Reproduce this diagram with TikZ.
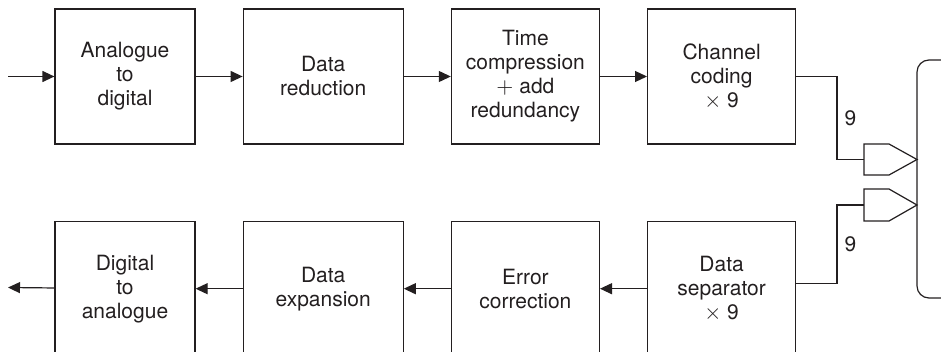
\documentclass[tikz,border=0pt]{standalone}
\usepackage{fontspec}
\setmainfont{TeX Gyre Heros}
\usetikzlibrary{arrows.meta, positioning, calc}
\definecolor{mydark}{RGB}{35,31,32}
\tikzset{
  block/.style={rectangle, draw=mydark, text=mydark, align=center,
    minimum height=67.5pt, inner sep=0pt, line width=0.6pt,
    font=\fontsize{10.5}{12}\selectfont},
  arrow/.style={-{Triangle[length=6pt,width=5.5pt]}, line width=0.6pt, color=mydark},
  line/.style={line width=0.6pt, color=mydark},
  count/.style={right, inner sep=3.5pt, text=mydark, font=\fontsize{10.5}{12}\selectfont}
}

\begin{document}
\begin{tikzpicture}[x=0.5pt, y=-0.5pt]
  \useasboundingbox (0,0) rectangle (941,352);
  % Record chain
  \node[block, minimum width=70pt] (ad) at (125,76.5) {Analogue\\to\\digital};
  \node[block, minimum width=80pt, right=23.5pt of ad] (dr) {Data\\reduction};
  \node[block, minimum width=74pt, right=23.5pt of dr] (tc) {Time\\compression\\$+$ add\\redundancy};
  \node[block, minimum width=74pt, right=23.5pt of tc] (cc) {Channel\\coding\\$\times$ 9};
  % Replay chain
  \node[block, minimum width=70pt, below=38pt of ad] (da) {Digital\\to\\analogue};
  \node[block, minimum width=80pt, below=38pt of dr] (de) {Data\\expansion};
  \node[block, minimum width=74pt, below=38pt of tc] (ec) {Error\\correction};
  \node[block, minimum width=74pt, below=38pt of cc] (ds) {Data\\separator\\$\times$ 9};
  % Input and output
  \coordinate (in) at (8,76.5);
  \coordinate (out) at (8,287.5);
  \draw[arrow] (in) -- (ad);
  \draw[arrow] (ad) -- (dr);
  \draw[arrow] (dr) -- (tc);
  \draw[arrow] (tc) -- (cc);
  \draw[arrow] (ds) -- (ec);
  \draw[arrow] (ec) -- (de);
  \draw[arrow] (de) -- (da);
  \draw[arrow] (da) -- (out);
  % Heads
  \coordinate (rec) at (864,159.5);
  \coordinate (play) at (864,205);
  \draw[line] (rec) ++(0,-15.5) -- ++(25,0) -- ++(28,15.5) -- ++(-28,15.5) -- ++(-25,0) -- cycle;
  \draw[line] (play) ++(0,-16) -- ++(25,0) -- ++(28,16) -- ++(-28,16) -- ++(-25,0) -- cycle;
  % Head connections
  \coordinate (jog1) at (837,159.5);
  \coordinate (jog2) at (837,205);
  \draw[line] (cc.east) -| (jog1) node[count, pos=0.75] {9} -- (rec);
  \draw[line] (play) -- (jog2) |- ([yshift=2.75pt]ds.east) node[count, pos=0.25] {9};
  % Tape
  \draw[line, rounded corners=6pt] (980,60) -- (917,60) -- (917,298) -- (980,298);
\end{tikzpicture}
\end{document}
